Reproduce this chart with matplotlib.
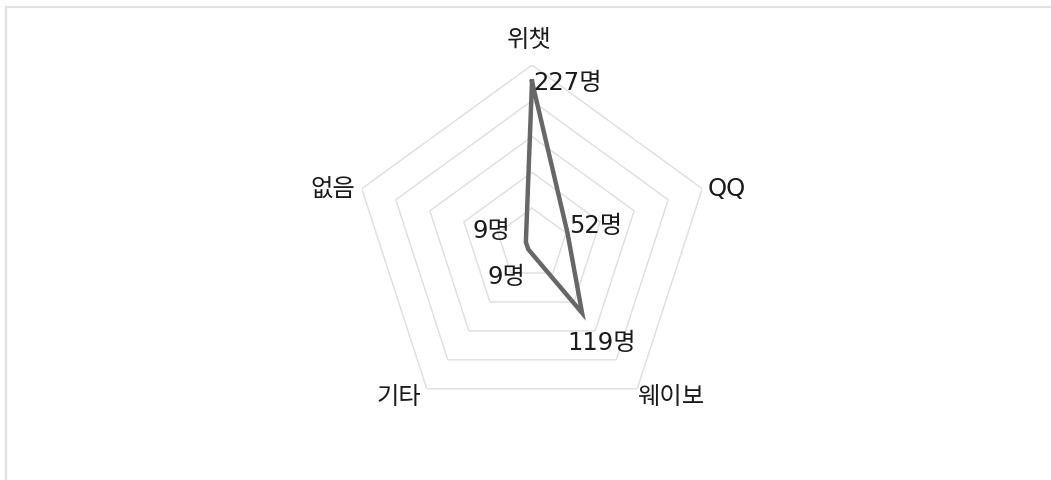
import numpy as np
import matplotlib.pyplot as plt
from matplotlib.patches import Rectangle

# 숫자/영문은 DejaVu, 한글은 Noto CJK 로
plt.rcParams['font.family'] = ['DejaVu Sans', 'Noto Sans CJK KR']

# 데이터
categories = ['위챗', 'QQ', '웨이보', '기타', '없음']
values = [227, 52, 119, 9, 9]
value_labels = ['227명', '52명', '119명', '9명', '9명']
rings = [50, 100, 150, 200, 250]

W, H = 1051, 480
fig = plt.figure(figsize=(W / 100, H / 100), dpi=100)

# 왼쪽/위 테두리 (잘린 차트 영역)
top = 1 - 6.5 / H
fig.add_artist(Rectangle((6 / W, -0.2), 1.2, top + 0.2,
                         transform=fig.transFigure, fill=False,
                         edgecolor='#e2e2e2', lw=1.6))

# 중심 (532, 244) px, 반지름 179 px
cx, cy, R = 532, 244, 179
ax = fig.add_axes([(cx - R) / W, 1 - (cy + R) / H, 2 * R / W, 2 * R / H],
                  projection='polar')
ax.set_theta_offset(np.pi / 2)
ax.set_theta_direction(-1)
ax.set_ylim(0, 250)
ax.grid(False)
ax.set_xticks([])
ax.set_yticks([])
ax.spines['polar'].set_visible(False)
ax.patch.set_visible(False)

angles = np.linspace(0, 2 * np.pi, len(categories), endpoint=False)
closed = np.concatenate([angles, angles[:1]])

for r in rings:
    ax.plot(closed, [r] * len(closed), color='#dedede', lw=1.0, zorder=1)

vals = values + values[:1]
ax.plot(closed, vals, color='#676767', lw=3.2, solid_joinstyle='miter', zorder=3)

# 카테고리 라벨
cat_off = [(-2, 18, 'center'), (4, 0, 'left'), (0, -6, 'left'),
           (-4, -6, 'right'), (-5, 0, 'right')]
for a, c, (dx, dy, ha) in zip(angles, categories, cat_off):
    ax.annotate(c, xy=(a, 250), xytext=(dx, dy), textcoords='offset points',
                ha=ha, va='center', fontsize=17.5, color='#1a1a1a',
                annotation_clip=False)

# 값 라벨
val_off = [(1, -1, 'left'), (1, 5, 'left'), (14, -22, 'center'),
           (-2, -20, 'right'), (-11, 8, 'right')]
for a, v, t, (dx, dy, ha) in zip(angles, values, value_labels, val_off):
    ax.annotate(t, xy=(a, v), xytext=(dx, dy), textcoords='offset points',
                ha=ha, va='center', fontsize=17.5, color='#1a1a1a',
                annotation_clip=False, zorder=4)

fig.savefig('out.png', dpi=100, facecolor='white')
